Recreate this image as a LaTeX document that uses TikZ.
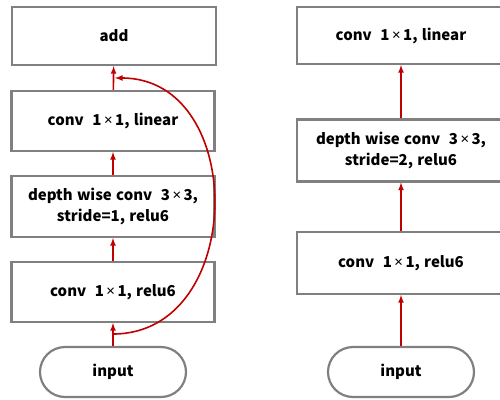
\documentclass[tikz,border=0pt]{standalone}
\usepackage{fontspec}
\setmainfont{Noto Sans CJK KR}[WordSpace=1.25]
\newfontfamily\timesfont{Noto Sans}
\usepackage{tikz}
\usetikzlibrary{arrows}

\definecolor{boxgray}{RGB}{128,128,128}
\definecolor{flowred}{RGB}{192,0,0}
\newcommand{\kx}{{\timesfont\bfseries\,×\,}}

\begin{document}
\begin{tikzpicture}[x=1pt, y=-1pt,
		>=latex,   %Pfeilspitzen
		layer/.style={draw=boxgray, line width=2.2pt, fill=white, rectangle, minimum width=203pt, minimum height=60pt, align=center, inner sep=2pt},
		inbox/.style={draw=boxgray, line width=2.2pt, fill=white, rounded corners=25pt, minimum width=146pt, minimum height=50pt},
		flow/.style={->, draw=flowred, line width=1.6pt},
		font=\fontsize{15}{21.5}\selectfont\bfseries]
	% Bildbereich
	\useasboundingbox (0,0) rectangle (500,399);
	\clip (0,0) rectangle (500,399);
	% linker Block (stride=1, mit Abkuerzung)
	\node[layer, minimum height=58pt, minimum width=204pt] (add) at (114,36) {add};
	\node[layer] (lina) at (113,121) {conv\ \ 1\kx1, linear};
	\node[layer, minimum height=61pt] (dwa) at (113,206.5) {depth wise conv\ \ 3\kx3,\\ stride=1, relu6};
	\node[layer] (relua) at (113,292) {conv\ \ 1\kx1, relu6};
	\node[inbox] (ina) at (113,372) {input};
	% rechter Block (stride=2)
	\node[layer, minimum width=208pt, minimum height=57pt] (linb) at (401,35.5) {conv\ \ 1\kx1, linear};
	\node[layer, minimum width=208pt, minimum height=62pt] (dwb) at (401,150.5) {depth wise conv\ \ 3\kx3,\\ stride=2, relu6};
	\node[layer, minimum width=208pt, minimum height=62pt] (relub) at (401,263) {conv\ \ 1\kx1, relu6};
	\node[inbox] (inb) at (401,372) {input};
	% Pfeile
	\foreach \a/\b in {ina/relua, relua/dwa, dwa/lina, lina/add, inb/relub, relub/dwb, dwb/linb}
		\draw[flow] (\a) -- (\b);
	% Abkuerzung
	\coordinate (split) at (113,334);
	\coordinate (merge) at (115,78);
	\draw[flow] (split) to[out=0, in=0, looseness=1.33] (merge);
\end{tikzpicture}
\end{document}
